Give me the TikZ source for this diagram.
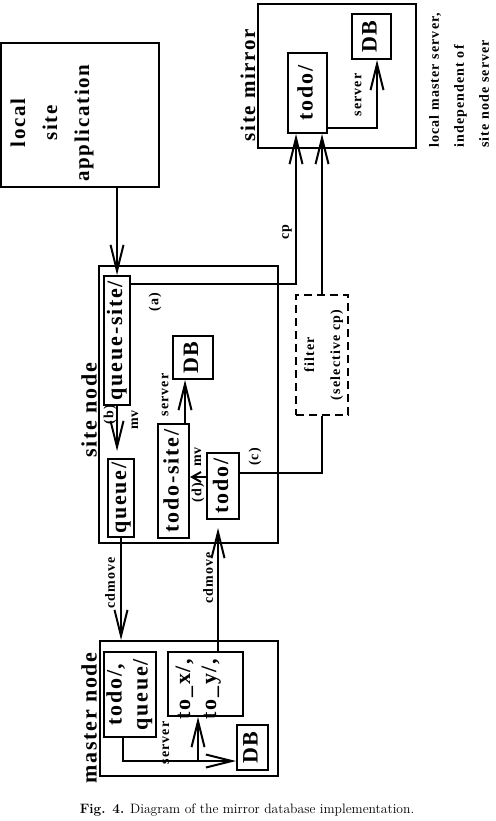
\documentclass[tikz,border=0pt]{standalone}
\usepackage{fontspec}
\usepackage{graphicx}
\usetikzlibrary{positioning}
\usetikzlibrary{calc}
\usetikzlibrary{arrows.meta}
\newfontfamily\figfont{Liberation Serif}[LetterSpace=8]
\newcommand{\figboxfont}{\figfont\bfseries\fontsize{22}{26}\selectfont}
\newcommand{\figtagfont}{\figfont\bfseries\fontsize{14}{26}\selectfont}
\newcommand{\figtitlefont}{\figfont\bfseries\fontsize{21}{32}\selectfont}
\newcommand{\vtext}[1]{\rotatebox{90}{\begin{tabular}{@{}c@{}}#1\end{tabular}}}

\begin{document}
\begin{tikzpicture}[
    x=1pt, y=-1pt,
    box/.style={draw, line width=2pt, inner sep=0pt, font=\figboxfont},
    tag/.style={rotate=90, inner sep=0pt, font=\figtagfont, align=center},
    title/.style={rotate=90, inner sep=0pt, font=\figtitlefont, align=center},
    wire/.style={line width=2pt},
    arr/.style={wire, -{Straight Barb[length=26pt,width=13pt]}},
    short arr/.style={wire, -{Straight Barb[length=9pt,width=10pt]}}
  ]
  \useasboundingbox (0,0) rectangle (495,821);

  % local application
  \node[box, minimum width=158pt, minimum height=144pt] (app) at (80,115) {};
  \node[title] (applabel) at (52,123) {local\\site\\application};

  % site mirror
  \node[box, minimum width=158pt, minimum height=144pt] (mirror) at (337,76) {};
  \node[box, minimum width=39pt, minimum height=45pt] (mdb) at (371.5,36.5) {\vtext{DB}};
  \node[box, minimum width=39pt, minimum height=80pt] (mtodo) at (307.5,93) {\vtext{todo/}};
  \node[title] (mirrorlabel) at (248,85) {site mirror};
  \node[tag] (mserver) at (358,95) {server};
  \coordinate (msrc) at ($(mtodo.south east)+(0,-6)$);
  \coordinate (mdst) at ($(mdb.south)+(5.5,0)$);
  \draw[arr] (msrc) -| (mdst);

  \node[rotate=90, anchor=north west, align=left, inner sep=0pt,
        font=\figfont\bfseries\fontsize{14}{25}\selectfont]
    (note) at (429,148) {local master server,\\independent of\\site node server};

  % site node
  \node[box, minimum width=179pt, minimum height=277pt] (site) at (188.5,404.5) {};
  \node[title, font=\figfont\bfseries\fontsize{22}{26}\selectfont] (sitelabel) at (89,410) {site node};
  \node[box, minimum width=24pt, minimum height=129pt] (qsite) at (117,340.5) {\vtext{queue-site/}};
  \node[box, minimum width=40pt, minimum height=43pt] (sdb) at (193,357.5) {\vtext{DB}};
  \node[box, minimum width=31pt, minimum height=114pt] (tsite) at (173.5,481) {\vtext{todo-site/}};
  \node[box, minimum width=26pt, minimum height=78pt] (queue) at (121,498) {\vtext{queue/}};
  \node[box, minimum width=32pt, minimum height=66pt] (stodo) at (223,486) {\vtext{todo/}};

  \node[tag] (tag a) at (155,302) {(a)};
  \node[tag] (tag b) at (110,415) {(b)};
  \node[tag] (mv b) at (135,420) {mv};
  \node[tag] (sserver) at (165,395) {server};
  \node[tag] (mv d) at (198,457) {mv};
  \node[tag] (tag d) at (198,493) {(d)};
  \node[tag] (tag c) at (255,457) {(c)};

  \coordinate (ssrc) at ($(tsite.north east)+(-5,0)$);
  \coordinate (dsrc) at ($(stodo.north west)+(0,25)$);
  \draw[arr] (qsite.north |- app.south) -- (qsite.north);
  \draw[arr, shorten >=7pt] (qsite.south) -- (qsite.south |- queue.north);
  \draw[arr] (ssrc) -- (ssrc |- sdb.south);
  \draw[short arr] (dsrc) -- (dsrc -| tsite.east);

  % filter and copies to the mirror
  \node[draw, dash pattern=on 8pt off 5pt, line width=2pt, inner sep=0pt,
        minimum width=40pt, minimum height=120pt, font=\figtagfont]
    (filter) at (322,355) {\rotatebox{90}{\begin{tabular}{@{}c@{}}filter\\(selective cp)\end{tabular}}};
  \node[tag] (cp) at (287,232) {cp};
  \coordinate (qsrc) at ($(qsite.north east)+(0,9)$);
  \coordinate (qdst) at ($(mtodo.south)+(-11.5,0)$);
  \coordinate (fsrc) at ($(stodo.north east)+(0,21)$);
  \draw[arr] (qsrc) -| (qdst);
  \draw[wire] (fsrc) -| (filter.south);
  \draw[arr] (filter.north) -- (filter.north |- mtodo.south);

  % master node
  \node[box, minimum width=178pt, minimum height=135pt] (master) at (189,708.5) {};
  \node[title, font=\figfont\bfseries\fontsize{22}{26}\selectfont] (masterlabel) at (89,718) {master node};
  \node[box, minimum width=49pt, minimum height=85pt] (mtq) at (129.5,694.5) {\vtext{todo/,\\queue/}};
  \node[box, minimum width=75pt, minimum height=64pt] (tox) at (205.5,684) {};
  \node[font=\figboxfont, inner sep=0pt] (toxlabel) at (198,689) {\vtext{to\_x/,\\to\_y/,}};
  \node[box, minimum width=31pt, minimum height=45pt] (mdb2) at (252.5,747.5) {\vtext{DB}};
  \node[tag] (mserver2) at (166,743) {server};
  \coordinate (tqsrc) at ($(mtq.south)+(-6.5,0)$);
  \coordinate (mdst2) at ($(mdb2.south west)+(0,-10)$);
  \coordinate (mjoin) at (198,760);

  \draw[arr] (tqsrc) |- (mdst2);
  \draw[arr] (mjoin) -- (mjoin |- tox.south);

  % moves between master and site node
  \node[tag] (cdm a) at (110,583) {cdmove};
  \node[tag] (cdm b) at (208,578) {cdmove};
  \coordinate (xsrc) at ($(tox.north)+(12.5,0)$);
  \draw[arr] (queue.south) -- (queue.south |- master.north);
  \draw[arr, shorten >=8pt] (xsrc) -- (xsrc |- stodo.south);

  \node[font=\fontsize{13.6}{16}\selectfont] (caption) at (247,810)
    {\textbf{Fig. 4.} Diagram of the mirror database implementation.};
\end{tikzpicture}
\end{document}
